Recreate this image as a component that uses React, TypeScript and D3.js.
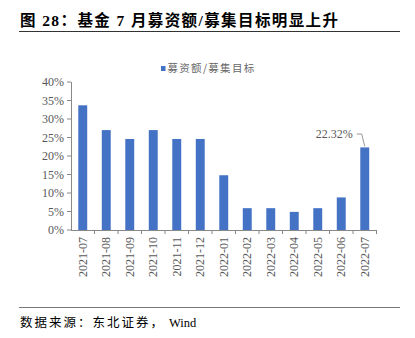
import React from "react";
import * as d3 from "d3";

const categories = ["2021-07","2021-08","2021-09","2021-10","2021-11","2021-12","2022-01","2022-02","2022-03","2022-04","2022-05","2022-06","2022-07"];
const values = [33.7, 27.0, 24.6, 27.0, 24.6, 24.6, 14.8, 5.9, 5.9, 4.9, 5.9, 8.8, 22.32];
const yTicks = [0, 5, 10, 15, 20, 25, 30, 35, 40];
const seriesName = "募资额/募集目标";
const titleText = "图 28：基金 7 月募资额/募集目标明显上升";
const sourceCjk = "数据来源：东北证券，";
const sourceLatin = "Wind";

export default function App() {
  const W = 415, H = 338;
  const left = 71, right = 376.5, top = 82, bottom = 230;
  const x = d3.scaleBand<string>().domain(categories).range([left, right]).paddingInner(0.62).paddingOuter(0.31);
  const y = d3.scaleLinear().domain([0, 40]).range([bottom, top]);
  const step = x.step();
  const serif = "'Liberation Serif', 'Times New Roman', serif";
  const cjk = "'Noto Sans CJK SC', sans-serif";
  const gray = "#595959";
  const blue = "#4472C4";
  const last = categories[categories.length - 1];
  const lastX = (x(last) ?? 0) + x.bandwidth() / 2;
  const lastY = y(values[values.length - 1]);
  return (
    <div style={{ position: "absolute", left: 0, top: 0 }}>
      <svg width={W} height={H} style={{ display: "block", background: "#fff" }}>
        <text x={20} y={26} fontFamily={`'Liberation Serif', ${cjk}`} fontWeight="bold" fontSize={15.5} letterSpacing={1.4} fill="#000">{titleText}</text>
        <line x1={19} x2={400} y1={31.5} y2={31.5} stroke="#333" strokeWidth={1} />
        <rect x={161} y={66} width={4.5} height={5} fill={blue} />
        <text x={167.5} y={72} fontFamily={cjk} fontSize={10.5} letterSpacing={1.3} fill="#666">{seriesName}</text>
        {yTicks.map(t => (
          <g key={t}>
            <line x1={left - 4} x2={left} y1={y(t)} y2={y(t)} stroke="#888" />
            <text x={left - 7} y={y(t)} dy="0.35em" textAnchor="end" fontFamily={serif} fontSize={12} fill={gray}>{t}%</text>
          </g>
        ))}
        <line x1={left + 0.5} x2={left + 0.5} y1={top} y2={bottom} stroke="#888" />
        <line x1={left} x2={right} y1={bottom + 0.5} y2={bottom + 0.5} stroke="#888" />
        {categories.map((c, i) => (
          <line key={"t" + c} x1={left + step * (i + 1)} x2={left + step * (i + 1)} y1={bottom} y2={bottom + 4} stroke="#888" />
        ))}
        {categories.map((c, i) => (
          <rect key={c} x={x(c)} y={y(values[i])} width={x.bandwidth()} height={bottom - y(values[i])} fill={blue} />
        ))}
        {categories.map(c => {
          const cx = (x(c) ?? 0) + x.bandwidth() / 2;
          return (
            <text key={"l" + c} transform={`translate(${cx},237) rotate(-90)`} textAnchor="end" dy="0.35em" fontFamily={serif} fontSize={12} fill={gray}>{c}</text>
          );
        })}
        <polyline points={`${lastX - 8},134 ${lastX - 3},134 ${lastX},${lastY - 1}`} fill="none" stroke="#999" strokeWidth={1} />
        <text x={lastX - 12} y={134} dy="0.35em" textAnchor="end" fontFamily={serif} fontSize={12} fill={gray}>22.32%</text>
        <line x1={19} x2={400} y1={307.5} y2={307.5} stroke="#777" strokeWidth={1} />
        <text x={20} y={327} fontFamily={`'Liberation Serif', ${cjk}`} fontSize={12.5} fill="#000">
          <tspan letterSpacing={2}>{sourceCjk}</tspan>
          <tspan dx={4}>{sourceLatin}</tspan>
        </text>
      </svg>
    </div>
  );
}
